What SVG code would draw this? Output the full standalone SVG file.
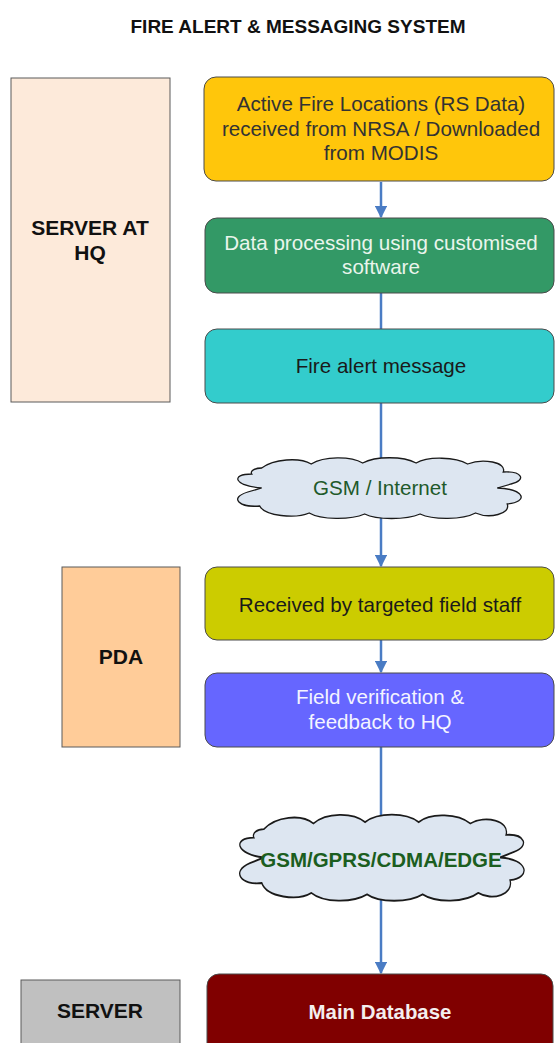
<svg xmlns="http://www.w3.org/2000/svg" width="555" height="1043" viewBox="0 0 555 1043">
<style>
text{font-family:"Liberation Sans",Arial,sans-serif;text-anchor:middle}
.t{font-size:20.6px}
.b{font-size:21px;font-weight:bold}
.box{stroke:#4a4a4a;stroke-width:1}
.lbl{stroke:#5a5a5a;stroke-width:1}
.cl{fill:#dde6f1;stroke:#1a1a1a;stroke-width:1.3}
.c{stroke:#4a7cc4;stroke-width:2.5;fill:none}
</style>
<defs>
<marker id="ah" viewBox="0 0 10 10" refX="9" refY="5" markerWidth="5" markerHeight="5" markerUnits="strokeWidth" orient="auto">
<path d="M0,0 L10,5 L0,10 Z" fill="#4a7cc4"/>
</marker>
<path id="cloud" d="M32 10 C44 1,70 -1,82 6 C95 -2,122 -2,134 5 C147 -2,175 -2,188 5 C200 -2,228 -1,240 6 C255 0,280 4,276 14 C295 13,300 22,284 26 L270 30 C298 31,302 44,280 46 C284 56,262 61,248 55 C235 62,205 62,192 56 C178 62,148 62,136 56 C122 62,92 62,80 55 C66 61,35 58,30 48 C10 50,-2 40,18 34 L32 30 C4 28,0 16,22 16 C20 13,25 10,32 10 Z"/>
</defs>
<rect width="555" height="1043" fill="#ffffff"/>
<text x="298" y="33" style="font-size:19px;font-weight:bold" fill="#111">FIRE ALERT &amp; MESSAGING SYSTEM</text>

<g id="connectors">
<line class="c" x1="381" y1="182" x2="381" y2="217" marker-end="url(#ah)"/>
<line class="c" x1="381" y1="293" x2="381" y2="329"/>
<line class="c" x1="381" y1="403" x2="381" y2="460"/>
<line class="c" x1="381" y1="517" x2="381" y2="566" marker-end="url(#ah)"/>
<line class="c" x1="381" y1="640" x2="381" y2="672" marker-end="url(#ah)"/>
<line class="c" x1="381" y1="747" x2="381" y2="818"/>
<line class="c" x1="381" y1="899" x2="381" y2="973" marker-end="url(#ah)"/>
</g>

<g id="server-hq">
<rect class="lbl" x="11" y="78" width="159" height="324" fill="#fdeada"/>
<text class="b" x="90" y="235" fill="#111">SERVER AT</text>
<text class="b" x="90" y="260" fill="#111">HQ</text>
</g>

<g id="active-fire">
<rect class="box" x="204" y="77" width="350" height="104" rx="12" fill="#ffc60b"/>
<text class="t" x="381" y="111" fill="#333">Active Fire Locations (RS Data)</text>
<text class="t" x="381" y="136" fill="#333">received from NRSA / Downloaded</text>
<text class="t" x="381" y="160" fill="#333">from MODIS</text>
</g>

<g id="data-processing">
<rect class="box" x="205" y="218" width="349" height="75" rx="12" fill="#339966"/>
<text class="t" x="381" y="250" fill="#eaf5ec">Data processing using customised</text>
<text class="t" x="381" y="274" fill="#eaf5ec">software</text>
</g>

<g id="fire-alert">
<rect class="box" x="205" y="329" width="349" height="74" rx="12" fill="#33cccc"/>
<text class="t" x="381" y="373" fill="#1a1a1a">Fire alert message</text>
</g>

<g id="gsm-internet">
<use href="#cloud" class="cl" transform="translate(230,458) scale(0.99,1)"/>
<text x="380" y="495" style="font-size:20.6px" fill="#1f5a2b">GSM / Internet</text>
</g>

<g id="pda">
<rect class="lbl" x="62" y="567" width="118" height="180" fill="#ffcc99"/>
<text class="b" x="121" y="664" fill="#111">PDA</text>
</g>

<g id="received">
<rect class="box" x="205" y="567" width="349" height="73" rx="12" fill="#cccc00"/>
<text class="t" x="380" y="612" fill="#1a1a1a">Received by targeted field staff</text>
</g>

<g id="field-verification">
<rect class="box" x="205" y="673" width="349" height="74" rx="12" fill="#6666ff"/>
<text class="t" x="380" y="704" fill="#f4f4ff">Field verification &amp;</text>
<text class="t" x="380" y="729" fill="#f4f4ff">feedback to HQ</text>
</g>

<g id="gsm-gprs">
<use href="#cloud" class="cl" transform="translate(232,815) scale(0.993,1.417)" style="vector-effect:non-scaling-stroke"/>
<text x="381" y="867" style="font-size:20.5px;font-weight:bold" fill="#1b5e20">GSM/GPRS/CDMA/EDGE</text>
</g>

<g id="server">
<rect class="lbl" x="21" y="980" width="159" height="80" fill="#c0c0c0"/>
<text class="b" x="100" y="1018" fill="#111">SERVER</text>
</g>

<g id="main-database">
<rect class="box" x="207" y="974" width="346" height="85" rx="12" fill="#800000"/>
<text class="b" x="380" y="1019" style="font-size:20.4px" fill="#f4eeee">Main Database</text>
</g>
</svg>
